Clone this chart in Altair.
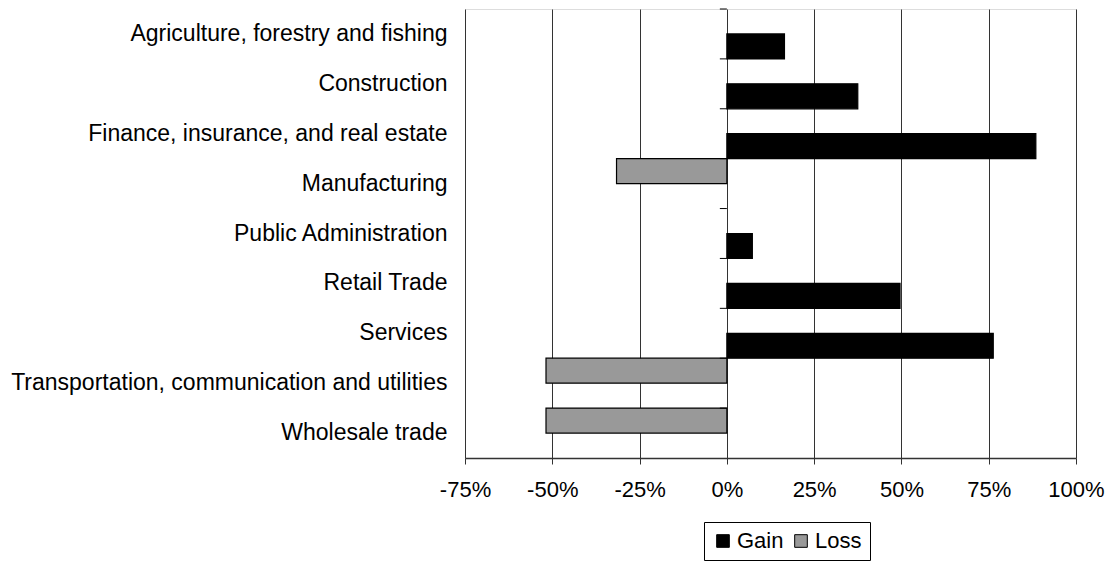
import altair as alt
import pandas as pd

categories = [
    "Agriculture, forestry and fishing",
    "Construction",
    "Finance, insurance, and real estate",
    "Manufacturing",
    "Public Administration",
    "Retail Trade",
    "Services",
    "Transportation, communication and utilities",
    "Wholesale trade",
]
gain = [0.165, 0.375, 0.885, None, 0.073, 0.496, 0.763, None, None]
loss = [None, None, None, -0.316, None, None, None, -0.518, -0.518]
series = ["Gain", "Loss"]
series_colors = ["#000000", "#999999"]
x_ticks = [-0.75, -0.5, -0.25, 0, 0.25, 0.5, 0.75, 1.0]

rows = []
for c, g, l in zip(categories, gain, loss):
    if g is not None:
        rows.append({"Industry": c, "Series": "Gain", "Change": g})
    if l is not None:
        rows.append({"Industry": c, "Series": "Loss", "Change": l})
df = pd.DataFrame(rows)
ticks_df = pd.DataFrame({"Industry": categories})

FONT = "Liberation Sans"
y_scale = alt.Scale(domain=categories, paddingInner=0, paddingOuter=0)
x_scale = alt.Scale(domain=[-0.75, 1.0], nice=False, zero=False)

bars = alt.Chart(df).mark_bar(stroke="#000000", strokeWidth=1.2).encode(
    x=alt.X(
        "Change:Q",
        scale=x_scale,
        axis=alt.Axis(
            values=x_ticks,
            format=".0%",
            labelExpr="replace(datum.label, '\u2212', '-')",
            labelFlush=False,
            labelOverlap=False,
            grid=True,
            gridColor="#333333",
            gridWidth=1,
            tickSize=6,
            tickColor="#333333",
            domainColor="#333333",
            domainWidth=1.5,
            labelFontSize=22,
            labelPadding=15,
            labelColor="#000000",
            labelFont=FONT,
            title=None,
        ),
    ),
    y=alt.Y(
        "Industry:N",
        scale=y_scale,
        sort=categories,
        axis=alt.Axis(
            ticks=False,
            domain=False,
            labelPadding=18,
            labelFontSize=23,
            labelLimit=600,
            labelColor="#000000",
            labelFont=FONT,
            title=None,
        ),
    ),
    yOffset=alt.YOffset(
        "Series:N",
        sort=["Loss", "Gain"],
        scale=alt.Scale(domain=["Loss", "Gain"], paddingInner=0, paddingOuter=0),
    ),
    color=alt.Color(
        "Series:N",
        scale=alt.Scale(domain=series, range=series_colors),
        legend=alt.Legend(
            title=None,
            orient="none",
            legendX=239,
            legendY=513,
            direction="horizontal",
            strokeColor="#000000",
            fillColor="#ffffff",
            padding=8,
            symbolType="square",
            symbolSize=160,
            symbolStrokeColor="#000000",
            symbolStrokeWidth=1,
            symbolOffset=0,
            labelFontSize=22,
            labelFont=FONT,
            labelColor="#000000",
            labelOffset=3,
            columnPadding=6,
        ),
    ),
)

tick_marks = alt.Chart(ticks_df).mark_rule(color="#000000", strokeWidth=1, x2Offset=-7).encode(
    y=alt.Y("Industry:N", scale=y_scale, sort=categories, bandPosition=0),
    x=alt.datum(0),
    x2=alt.datum(0),
)

chart = (
    alt.layer(bars, tick_marks)
    .properties(
        width=611,
        height=449,
        autosize=alt.AutoSizeParams(type="none"),
        padding={"left": 465, "top": 9, "right": 42, "bottom": 103},
        background="#ffffff",
    )
    .configure_view(stroke="#888888", strokeWidth=1)
    .configure(font=FONT)
)

chart.save("out.html", embed_options={"renderer": "svg", "actions": False})
